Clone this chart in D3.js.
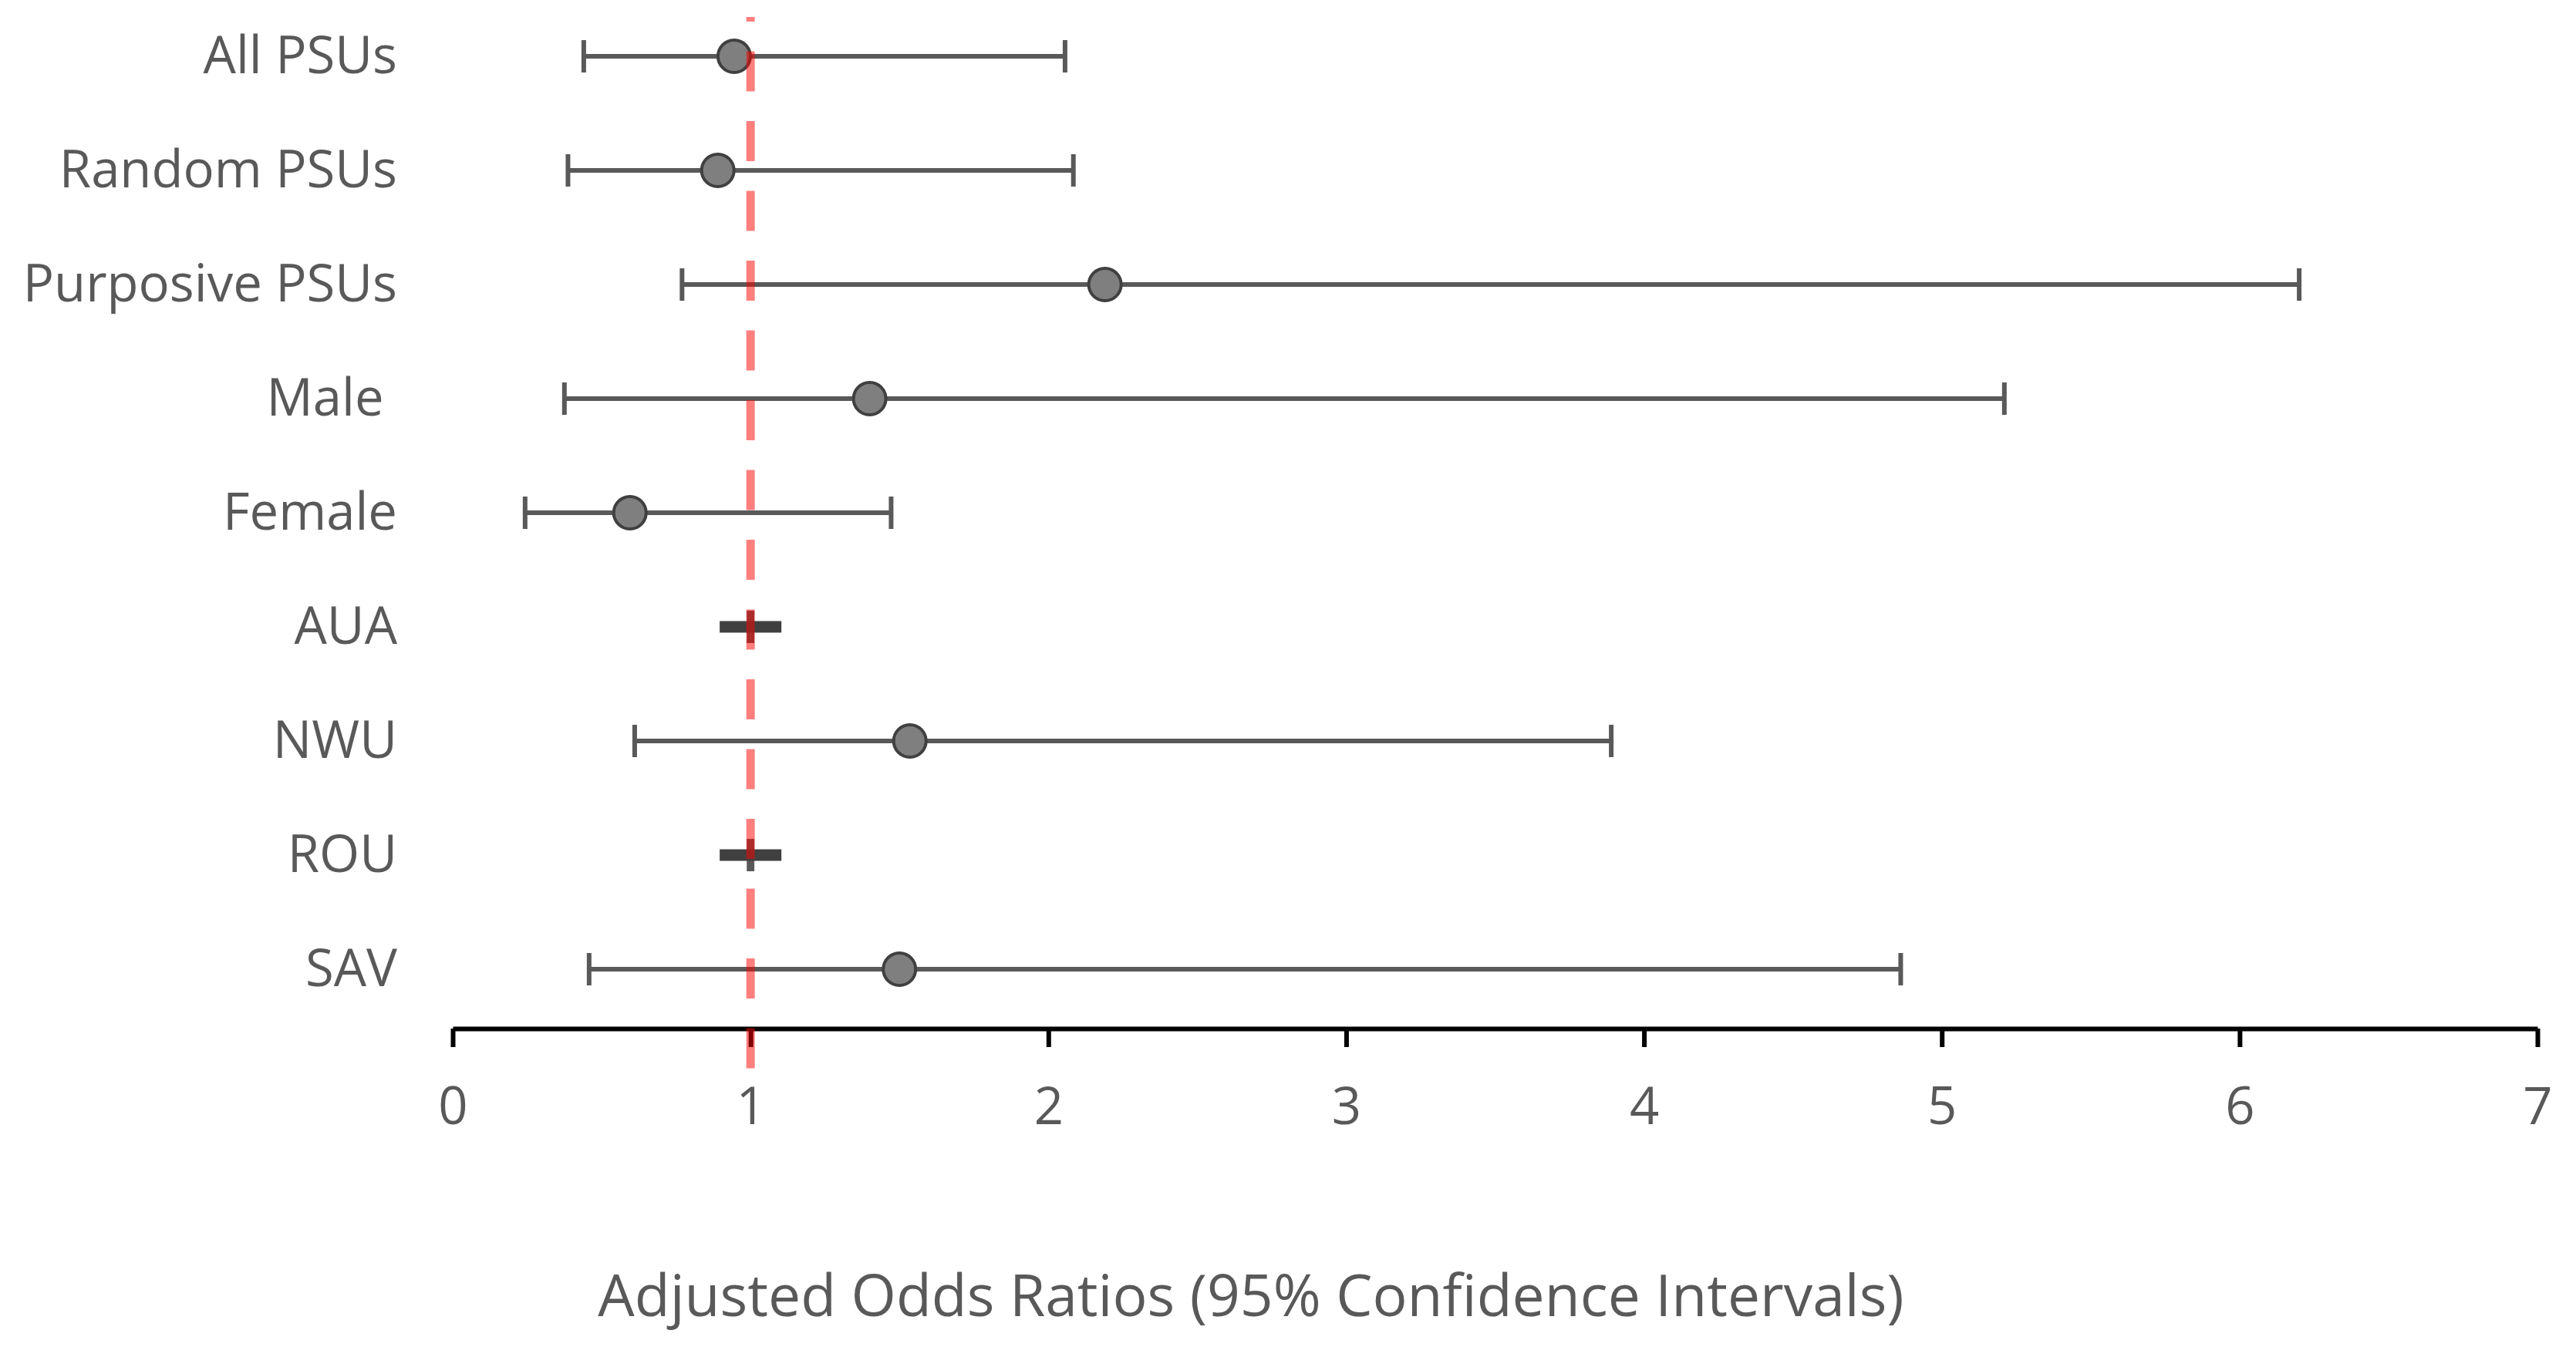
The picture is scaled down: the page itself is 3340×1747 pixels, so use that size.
<!DOCTYPE html>
<html>
<head>
<meta charset="utf-8">
<script src="https://cdn.jsdelivr.net/npm/d3@7"></script>
<style>
  body { margin: 0; background: #fff; }
  text { font-family: "Open Sans", sans-serif; fill: #595959; }
</style>
</head>
<body>
<div id="wrapper"></div>
<script>
const categories = ["All PSUs", "Random PSUs", "Purposive PSUs", "Male ", "Female", "AUA", "NWU", "ROU", "SAV"];
const estimates = [0.945, 0.89, 2.19, 1.40, 0.595, 1.00, 1.535, 1.00, 1.50];
const lowerCI = [0.44, 0.387, 0.77, 0.375, 0.243, 0.995, 0.611, 0.995, 0.458];
const upperCI = [2.056, 2.084, 6.20, 5.21, 1.472, 1.005, 3.89, 1.005, 4.862];
const xTicks = [0, 1, 2, 3, 4, 5, 6, 7];
const referenceValue = 1;
const axisTitle = "Adjusted Odds Ratios (95% Confidence Intervals)";

function drawForest() {
  const dataset = categories.map((c, i) => ({
    name: c, est: estimates[i], lo: lowerCI[i], hi: upperCI[i]
  }));

  let dimensions = {
    width: 3340,
    height: 1747,
    margin: { top: 73, right: 50, bottom: 490, left: 587 },
  }
  dimensions.boundedWidth = dimensions.width - dimensions.margin.left - dimensions.margin.right
  dimensions.boundedHeight = dimensions.height - dimensions.margin.top - dimensions.margin.bottom

  const wrapper = d3.select("#wrapper")
    .append("svg")
    .attr("width", dimensions.width)
    .attr("height", dimensions.height)

  const bounds = wrapper.append("g")
    .attr("transform", `translate(${dimensions.margin.left},${dimensions.margin.top})`)

  // scales
  const xScale = d3.scaleLinear()
    .domain([0, 7])
    .range([0, dimensions.boundedWidth])

  const yScale = d3.scalePoint()
    .domain(categories)
    .range([0, 1184])

  const axisY = 1261

  // x axis
  const xAxisGenerator = d3.axisBottom(xScale)
    .tickValues(xTicks)
    .tickSize(24)
    .tickSizeOuter(0)
    .tickFormat(d3.format("d"))

  const xAxis = bounds.append("g")
    .attr("transform", `translate(0,${axisY})`)
    .call(xAxisGenerator)

  xAxis.select(".domain")
    .attr("stroke", "#000")
    .attr("stroke-width", 6)
  xAxis.selectAll(".tick line")
    .attr("stroke", "#000")
    .attr("stroke-width", 6)
  xAxis.selectAll(".tick text")
    .attr("y", 124)
    .attr("dy", 0)
    .style("font-family", '"Open Sans", sans-serif')
    .style("font-size", "67px")
    .attr("fill", "#595959")

  // category labels
  bounds.append("g")
    .selectAll("text")
    .data(dataset)
    .join("text")
      .attr("x", -72)
      .attr("y", d => yScale(d.name) + 22)
      .attr("text-anchor", "end")
      .style("font-size", "67px")
      .style("white-space", "pre")
      .text(d => d.name)

  // error bars
  const bars = bounds.append("g")
    .selectAll("g")
    .data(dataset)
    .join("g")
      .attr("transform", d => `translate(0,${yScale(d.name)})`)

  bars.append("line")
    .attr("x1", d => xScale(d.lo))
    .attr("x2", d => xScale(d.hi))
    .attr("stroke", "#595959")
    .attr("stroke-width", 6)

  bars.selectAll(".cap")
    .data(d => [d.lo, d.hi])
    .join("line")
      .attr("class", "cap")
      .attr("x1", v => xScale(v))
      .attr("x2", v => xScale(v))
      .attr("y1", -21)
      .attr("y2", 21)
      .attr("stroke", "#595959")
      .attr("stroke-width", 6)

  // markers: circles, or a dash when the interval collapses
  const isNarrow = d => (d.hi - d.lo) < 0.05

  bars.filter(d => !isNarrow(d))
    .append("circle")
      .attr("cx", d => xScale(d.est))
      .attr("r", 21)
      .attr("fill", "#7f7f7f")
      .attr("stroke", "#404040")
      .attr("stroke-width", 4)

  bars.filter(isNarrow)
    .append("rect")
      .attr("x", d => xScale(d.est) - 40)
      .attr("y", -7.5)
      .attr("width", 80)
      .attr("height", 15)
      .attr("fill", "#404040")

  // reference line at 1, on top so it tints the marks
  bounds.append("line")
    .attr("x1", xScale(referenceValue))
    .attr("x2", xScale(referenceValue))
    .attr("y1", -51)
    .attr("y2", axisY + 52)
    .attr("stroke", "red")
    .attr("stroke-opacity", 0.5)
    .attr("stroke-width", 11)
    .attr("stroke-dasharray", "52 38.5")
    .attr("stroke-dashoffset", 46)

  // axis title
  wrapper.append("text")
    .attr("x", 1622)
    .attr("y", 1707)
    .attr("text-anchor", "middle")
    .style("font-size", "75px")
    .text(axisTitle)
}

drawForest()
</script>
</body>
</html>
